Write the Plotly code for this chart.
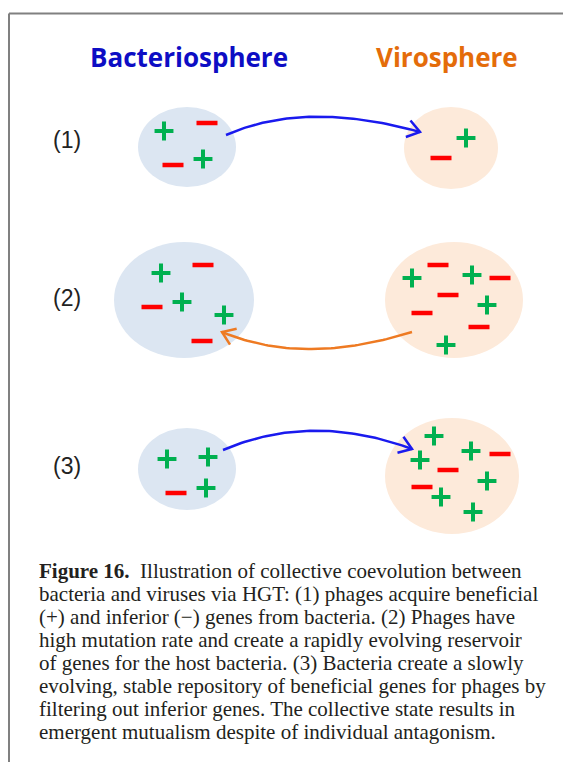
import numpy as np
import plotly.graph_objects as go

W, H = 563, 762

# panel headings and row labels
TITLES = ["Bacteriosphere", "Virosphere"]
TITLE_X = [189, 447]
ROW_LABELS = ["(1)", "(2)", "(3)"]
ROW_Y = [140, 298, 466]

# bubbles: centre x, centre y, half width, half height
BUBBLE_CX = [187, 451, 184, 454, 187, 452]
BUBBLE_CY = [147, 148, 300, 300, 469, 476]
BUBBLE_RX = [49, 47, 70, 69, 49, 67]
BUBBLE_RY = [40, 41, 58, 58, 41, 58]
BUBBLE_KIND = ["bact", "virus", "bact", "virus", "bact", "virus"]

# genes (+ beneficial, - inferior), positions inside the bubbles
PLUS_X = [164, 203, 466, 161, 182, 224, 412, 472, 487, 446, 167, 208, 206,
          434, 420, 471, 487, 441, 473]
PLUS_Y = [131, 159, 138, 273, 302, 315, 278, 275, 305, 345, 459, 457, 488,
          436, 460, 451, 481, 497, 512]
MINUS_X = [207, 173, 441, 203, 152, 202, 438, 500, 448, 422, 479, 176,
           500, 448, 422]
MINUS_Y = [123, 165, 158, 265, 307, 341, 265, 278, 295, 313, 327, 493,
           454, 470, 487]

# HGT arrows: start, bend control, end
ARROW_START = [(226, 135), (412, 332), (223, 450)]
ARROW_CTRL = [(305, 100), (303, 366), (312, 412)]
ARROW_END = [(420, 132), (222, 332), (412, 449)]
ARROW_COLOR = ["#1a1aee", "#ee7a22", "#1a1aee"]

CAPTION = [
    "<b>Figure 16.</b>\u2002Illustration of collective coevolution between",
    "bacteria and viruses via HGT: (1) phages acquire beneficial",
    "(+) and inferior (\u2212) genes from bacteria. (2) Phages have",
    "high mutation rate and create a rapidly evolving reservoir",
    "of genes for the host bacteria. (3) Bacteria create a slowly",
    "evolving, stable repository of beneficial genes for phages by",
    "filtering out inferior genes. The collective state results in",
    "emergent mutualism despite of individual antagonism.",
]
CAPTION_Y = [571, 594, 617, 640, 663, 686, 709, 732]

fill = {"bact": "#dce6f2", "virus": "#fdeada"}

fig = go.Figure()

shapes = []
# frame lines
shapes.append(dict(type="line", x0=9, x1=W, y0=13.5, y1=13.5,
                   line=dict(color="#808080", width=2)))
shapes.append(dict(type="line", x0=9, x1=9, y0=13.5, y1=H,
                   line=dict(color="#808080", width=2)))
for cx, cy, rx, ry, k in zip(BUBBLE_CX, BUBBLE_CY, BUBBLE_RX, BUBBLE_RY, BUBBLE_KIND):
    shapes.append(dict(type="circle", xref="x", yref="y",
                       x0=cx - rx, x1=cx + rx, y0=cy - ry, y1=cy + ry,
                       fillcolor=fill[k], line=dict(width=0), layer="below"))

# arrows as quadratic curves with open heads
t = np.linspace(0, 1, 60)
for s, c, e, col in zip(ARROW_START, ARROW_CTRL, ARROW_END, ARROW_COLOR):
    s, c, e = np.array(s, float), np.array(c, float), np.array(e, float)
    pts = ((1 - t) ** 2)[:, None] * s + (2 * (1 - t) * t)[:, None] * c + (t ** 2)[:, None] * e
    fig.add_trace(go.Scatter(x=pts[:, 0], y=pts[:, 1], mode="lines",
                             line=dict(color=col, width=2.5), hoverinfo="skip"))
    d = (e - c) / np.linalg.norm(e - c)
    back = -d
    arms = []
    for ang in (np.radians(35), -np.radians(35)):
        rot = np.array([[np.cos(ang), -np.sin(ang)], [np.sin(ang), np.cos(ang)]])
        arms.append(e + 15 * rot @ back)
    fig.add_trace(go.Scatter(x=[arms[0][0], e[0], arms[1][0]],
                             y=[arms[0][1], e[1], arms[1][1]], mode="lines",
                             line=dict(color=col, width=2.5), hoverinfo="skip"))

fig.add_trace(go.Scatter(
    x=PLUS_X, y=PLUS_Y, mode="markers", hoverinfo="skip",
    marker=dict(symbol="cross-thin", size=13.5, color="#00b050",
                line=dict(color="#00b050", width=4))))
fig.add_trace(go.Scatter(
    x=MINUS_X, y=MINUS_Y, mode="markers", hoverinfo="skip",
    marker=dict(symbol="line-ew", size=15, color="#ff0000",
                line=dict(color="#ff0000", width=4.5))))

annotations = []
for txt, x, col in zip(TITLES, TITLE_X, ["#0d0dc4", "#e46c0a"]):
    annotations.append(dict(x=x, y=57, text="<b>" + txt + "</b>", showarrow=False,
                            font=dict(family="Open Sans", size=26, color=col),
                            xanchor="center", yanchor="middle"))
for lab, y in zip(ROW_LABELS, ROW_Y):
    annotations.append(dict(x=67, y=y, text=lab, showarrow=False,
                            font=dict(family="Liberation Sans", size=23, color="#222222"),
                            xanchor="center", yanchor="middle"))
for line, y in zip(CAPTION, CAPTION_Y):
    annotations.append(dict(x=37, y=y, text=line, showarrow=False,
                            font=dict(family="Liberation Serif", size=21, color="#231f20"),
                            xanchor="left", yanchor="middle"))

fig.update_layout(
    width=W, height=H,
    margin=dict(l=0, r=0, t=0, b=0),
    paper_bgcolor="white", plot_bgcolor="white",
    showlegend=False,
    xaxis=dict(range=[0, W], visible=False, fixedrange=True),
    yaxis=dict(range=[H, 0], visible=False, fixedrange=True),
    shapes=shapes,
    annotations=annotations,
)

fig.write_html("out.html", config={"displayModeBar": False},
               post_script="document.body.style.margin='0';")
